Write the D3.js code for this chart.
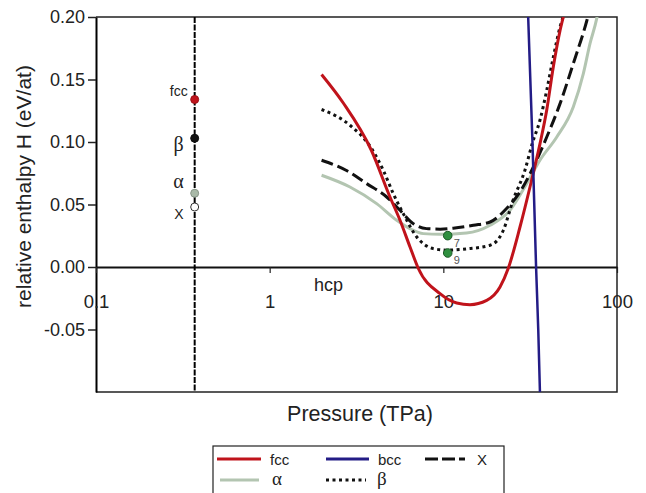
<!DOCTYPE html>
<html>
<head>
<meta charset="utf-8">
<script src="https://cdn.jsdelivr.net/npm/d3@7"></script>
<style>
  html, body { margin: 0; padding: 0; background: #fff; }
  svg { display: block; font-family: "Liberation Sans", Arial, sans-serif; }
</style>
</head>
<body>
<svg id="chart" width="646" height="493"></svg>
<script>
// Pressure (TPa) and relative enthalpy H (eV/atom) for each phase, relative to hcp
const fccP  = [1.99, 2.66, 3.85, 4.93, 5.63, 6.43, 7.17, 9.57, 11.94, 14.24, 17.77, 21.2, 23.66, 27.63, 31.55, 36.03, 39.37, 42.97, 46.97, 49.06];
const fccH  = [0.154, 0.131, 0.0934, 0.056, 0.0374, 0.016, -0.001, -0.0213, -0.0288, -0.0301, -0.0267, -0.016, -0.001, 0.032, 0.064, 0.0987, 0.1254, 0.160, 0.189, 0.200];

const bccP  = [30.8, 32.6, 34.2, 35.2, 36.0];
const bccH  = [0.20, 0.10, 0.0, -0.05, -0.10];

const xP    = [1.99, 2.75, 3.62, 4.72, 5.63, 6.71, 8.0, 9.6, 11.4, 14.9, 18.6, 23.2, 27.6, 33.0, 39.4, 47.0, 56.0, 67.0, 68.5];
const xH    = [0.0854, 0.0774, 0.0667, 0.056, 0.0454, 0.0347, 0.0307, 0.0303, 0.031, 0.0334, 0.036, 0.047, 0.060, 0.080, 0.104, 0.1307, 0.1627, 0.197, 0.202];

const alphaP = [1.99, 2.9, 4.13, 5.39, 6.43, 7.67, 9.6, 13.6, 18.6, 24.2, 30.2, 36.0, 45.0, 56.0, 64.0, 69.9, 76.4, 77.5];
const alphaH = [0.0734, 0.064, 0.0507, 0.0374, 0.0307, 0.0267, 0.0262, 0.0272, 0.0334, 0.0454, 0.0667, 0.0854, 0.104, 0.128, 0.1547, 0.1787, 0.1987, 0.203];

const betaP = [1.99, 2.9, 3.85, 4.51, 5.15, 5.88, 7.03, 8.75, 10.4, 13.6, 18.6, 22.1, 25.2, 29.5, 32.5, 36.0, 39.4, 43.0, 47.0, 48.9];
const betaH = [0.126, 0.1134, 0.095, 0.0774, 0.0587, 0.0427, 0.024, 0.0147, 0.0135, 0.0145, 0.0174, 0.029, 0.0534, 0.0774, 0.0987, 0.1174, 0.1414, 0.168, 0.192, 0.200];

// zero-pressure reference column
const refPressure = 0.37;
const refNames = ["fcc", "β", "α", "X"];
const refH     = [0.134, 0.103, 0.059, 0.048];

// hcp calculations with 7 and 9 layers
const hcpLabels = ["7", "9"];
const hcpP      = [10.6, 10.6];
const hcpH      = [0.0251, 0.0112];

const xTicks = [0.1, 1, 10, 100];
const yTicks = [-0.05, 0.00, 0.05, 0.10, 0.15, 0.20];

const legendNames = ["fcc", "bcc", "X", "α", "β"];

// ---------------------------------------------------------------
const svg = d3.select("#chart");
const plotLeft = 96, plotRight = 617, plotTop = 17, plotBottom = 392;

const x = d3.scaleLog().domain([0.1, 100]).range([plotLeft, plotRight]);
const y = d3.scaleLinear().domain([-0.10, 0.20]).range([plotBottom, plotTop]);

const colors = { fcc: "#c0131b", bcc: "#231c86", X: "#111", "α": "#b3c5b1", "β": "#111" };

svg.append("defs").append("clipPath").attr("id", "plotClip")
  .append("rect").attr("x", plotLeft).attr("y", plotTop)
  .attr("width", plotRight - plotLeft).attr("height", plotBottom - plotTop);

// frame (top, right, bottom)
svg.append("path")
  .attr("d", `M${plotLeft},${plotTop}H${plotRight}V${plotBottom}H${plotLeft}`)
  .attr("fill", "none").attr("stroke", "#222").attr("stroke-width", 1.5);

// y axis
const yAxis = svg.append("g").attr("transform", `translate(${plotLeft},0)`)
  .call(d3.axisLeft(y).tickValues(yTicks).tickSize(8).tickSizeOuter(0).tickPadding(3)
    .tickFormat(d => d.toFixed(2)));
yAxis.select(".domain").attr("stroke", "#000").attr("stroke-width", 2);
yAxis.selectAll(".tick line").attr("stroke", "#222").attr("stroke-width", 1.5);
yAxis.selectAll(".tick text").attr("font-size", 18).attr("fill", "#222")
  .attr("font-family", "'Liberation Sans', Arial, sans-serif");

// x axis drawn along H = 0
const xAxis = svg.append("g").attr("transform", `translate(0,${y(0)})`)
  .call(d3.axisBottom(x).tickValues(xTicks).tickSize(6).tickSizeOuter(0).tickPadding(22)
    .tickFormat(d3.format("~g")));
xAxis.select(".domain").attr("stroke", "#111").attr("stroke-width", 2);
xAxis.selectAll(".tick line").attr("stroke", "#222").attr("stroke-width", 1.2);
xAxis.selectAll(".tick text").attr("font-size", 18.5).attr("fill", "#222")
  .attr("font-family", "'Liberation Sans', Arial, sans-serif");

// axis titles
svg.append("text")
  .attr("transform", `translate(31,${(65 + 308) / 2}) rotate(-90)`)
  .attr("text-anchor", "middle").attr("font-size", 21).attr("fill", "#222")
  .text("relative enthalpy H (eV/at)");
svg.append("text")
  .attr("x", 360).attr("y", 421).attr("text-anchor", "middle")
  .attr("font-size", 21.5).attr("fill", "#222")
  .text("Pressure (TPa)");

// hcp reference label
svg.append("text").attr("x", 314).attr("y", 291)
  .attr("font-size", 18).attr("fill", "#222").text("hcp");

// vertical reference line at low pressure
svg.append("line")
  .attr("x1", x(refPressure)).attr("x2", x(refPressure))
  .attr("y1", plotTop).attr("y2", plotBottom)
  .attr("stroke", "#000").attr("stroke-width", 2).attr("stroke-dasharray", "6,1.5");

// curves
const line = d3.line().x(d => x(d[0])).y(d => y(d[1])).curve(d3.curveMonotoneX);
const zip = (a, b) => a.map((v, i) => [v, b[i]]);
const curves = svg.append("g").attr("clip-path", "url(#plotClip)").attr("fill", "none");

const series = [
  { name: "α",   pts: zip(alphaP, alphaH), color: colors["α"], w: 3,   dash: null },
  { name: "X",   pts: zip(xP, xH),         color: colors.X,    w: 3,   dash: "12,5" },
  { name: "β",   pts: zip(betaP, betaH),   color: colors["β"], w: 3,   dash: "3,3.5" },
  { name: "fcc", pts: zip(fccP, fccH),     color: colors.fcc,  w: 3,   dash: null },
  { name: "bcc", pts: zip(bccP, bccH),     color: colors.bcc,  w: 2.5, dash: null }
];
series.forEach(s => {
  curves.append("path").attr("d", line(s.pts))
    .attr("stroke", s.color).attr("stroke-width", s.w)
    .attr("stroke-dasharray", s.dash);
});

// reference points on the dashed column
const refFill = { fcc: "#c0131b", "β": "#111", "α": "#a9b9a8", X: "#fff" };
refNames.forEach((n, i) => {
  svg.append("circle").attr("cx", x(refPressure)).attr("cy", y(refH[i])).attr("r", 4)
    .attr("fill", refFill[n]).attr("stroke", n === "X" ? "#333" : d3.color(refFill[n]).darker(0.6))
    .attr("stroke-width", 1);
});
const refLabelStyle = {
  fcc: { size: 14, family: "'Liberation Sans', Arial, sans-serif", dy: -4 },
  "β": { size: 20, family: "'Liberation Serif', 'DejaVu Serif', serif", dy: 13 },
  "α": { size: 20, family: "'Liberation Serif', 'DejaVu Serif', serif", dy: -5 },
  X:   { size: 14, family: "'Liberation Sans', Arial, sans-serif", dy: 12 }
};
refNames.forEach((n, i) => {
  const st = refLabelStyle[n];
  svg.append("text").attr("x", x(refPressure) - (n === "fcc" ? 7 : 11))
    .attr("y", y(refH[i]) + st.dy).attr("text-anchor", "end")
    .attr("font-size", st.size).attr("font-family", st.family).attr("fill", "#222")
    .text(n);
});

// hcp multilayer points
hcpLabels.forEach((lab, i) => {
  svg.append("circle").attr("cx", x(hcpP[i])).attr("cy", y(hcpH[i])).attr("r", 4.3)
    .attr("fill", "#2f8f3f").attr("stroke", "#1d5a27").attr("stroke-width", 1);
  svg.append("text").attr("x", x(hcpP[i]) + 6).attr("y", y(hcpH[i]) + 11)
    .attr("font-size", 11).attr("fill", "#555").text(lab);
});

// legend
const lg = svg.append("g");
lg.append("rect").attr("x", 213).attr("y", 446).attr("width", 291).attr("height", 60)
  .attr("fill", "#fff").attr("stroke", "#222").attr("stroke-width", 1.2);
const legendPos = {
  fcc: { x1: 217, x2: 261, y: 459, tx: 270 },
  bcc: { x1: 326, x2: 369, y: 459, tx: 378 },
  X:   { x1: 425, x2: 465, y: 459, tx: 477 },
  "α": { x1: 220, x2: 259, y: 480, tx: 272 },
  "β": { x1: 326, x2: 366, y: 480, tx: 377 }
};
legendNames.forEach(n => {
  const p = legendPos[n];
  const s = series.find(d => d.name === n);
  lg.append("line").attr("x1", p.x1).attr("x2", p.x2).attr("y1", p.y).attr("y2", p.y)
    .attr("stroke", s.color).attr("stroke-width", 3)
    .attr("stroke-dasharray", n === "X" ? "13,4" : (n === "β" ? "3,3.5" : null));
  const greek = n === "α" || n === "β";
  lg.append("text").attr("x", p.tx).attr("y", p.y + (greek ? 5 : 6))
    .attr("font-size", greek ? 19 : 15)
    .attr("font-family", greek ? "'Liberation Serif', 'DejaVu Serif', serif" : "'Liberation Sans', Arial, sans-serif")
    .attr("fill", "#222").text(n);
});
</script>
</body>
</html>
